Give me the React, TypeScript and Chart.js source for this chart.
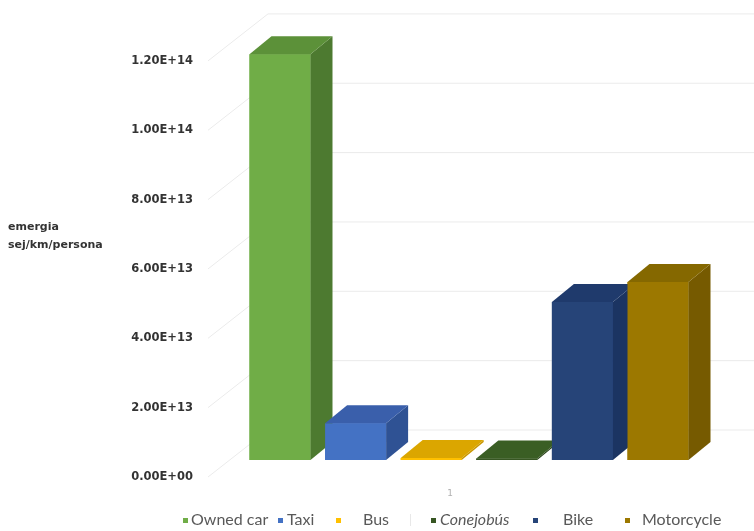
import React, { useEffect, useRef } from "react";
import { Chart, registerables } from "chart.js";

Chart.register(...registerables);

// Transport modes (one series each) and their emergy per km per person
const modes = ["Owned car", "Taxi", "Bus", "Conejobús", "Bike", "Motorcycle"];
const emergy = [1.17e14, 1.06e13, 6e11, 4e11, 4.56e13, 5.13e13];
const categoryLabels = ["1"];
const yTickStep = 2e13;
const yMax = 1.2e14;
const yTitleLines = ["emergia", "sej/km/persona"];

// Face colours for each 3-D column: front, side, top
const frontColors = ["#70ad47", "#4472c4", "#ffc000", "#375623", "#264478", "#9c7800"];
const sideColors = ["#4d7a30", "#2f5294", "#c99700", "#2b441b", "#1b3462", "#765a00"];
const topColors = ["#5c9139", "#3a5fab", "#dba600", "#3a5e24", "#1f3a6c", "#856800"];

// Perspective offsets
const COL_DX = 22; // column depth, to the right
const COL_DY = 18; // column depth, upward
const FLOOR_DX = -22; // front edge of the floor relative to the column plane
const FLOOR_DY = 17;
const WALL_DX = 38; // back wall relative to the column plane
const WALL_DY = -30;

// Legend entry placement
const legendMarkerX = [183, 278, 336, 431, 533, 625];
const legendTextX = [191, 287, 363, 440, 563, 642];
const legendY = 520;

const fmtSci = (v: number) => {
  const [m, e] = v.toExponential(2).split("e");
  return `${m}E${e[0]}${e.slice(1).padStart(2, "0")}`;
};

const poly = (ctx: CanvasRenderingContext2D, pts: number[][], color: string) => {
  ctx.beginPath();
  ctx.moveTo(pts[0][0], pts[0][1]);
  for (let i = 1; i < pts.length; i++) ctx.lineTo(pts[i][0], pts[i][1]);
  ctx.closePath();
  ctx.fillStyle = color;
  ctx.fill();
};

const wallPlugin = {
  id: "wall3d",
  beforeDatasetsDraw(chart: any) {
    const { ctx, chartArea, scales } = chart;
    const y = scales.y;
    ctx.save();
    ctx.strokeStyle = "#ebebeb";
    ctx.lineWidth = 1;
    for (let v = 0; v <= yMax + 1; v += yTickStep) {
      const p = y.getPixelForValue(v);
      ctx.beginPath();
      ctx.moveTo(chartArea.left + FLOOR_DX, p + FLOOR_DY);
      ctx.lineTo(chartArea.left + WALL_DX, p + WALL_DY);
      ctx.lineTo(chart.width, p + WALL_DY);
      ctx.stroke();
    }
    ctx.restore();
  },
};

const columnsPlugin = {
  id: "columns3d",
  afterDatasetsDraw(chart: any) {
    const { ctx } = chart;
    ctx.save();
    chart.data.datasets.forEach((_: any, i: number) => {
      const el = chart.getDatasetMeta(i).data[0];
      if (!el) return;
      const { x, y, base, width } = el.getProps(["x", "y", "base", "width"], true);
      const l = x - width / 2;
      const r = x + width / 2;
      poly(ctx, [[l, y], [r, y], [r, base], [l, base]], frontColors[i]);
      poly(ctx, [[r, y], [r + COL_DX, y - COL_DY], [r + COL_DX, base - COL_DY], [r, base]], sideColors[i]);
      poly(ctx, [[l, y], [l + COL_DX, y - COL_DY], [r + COL_DX, y - COL_DY], [r, y]], topColors[i]);
    });
    ctx.restore();
  },
};

const annotationsPlugin = {
  id: "annotations",
  afterDraw(chart: any) {
    const { ctx } = chart;
    ctx.save();
    // axis title, horizontal, two lines
    ctx.fillStyle = "#333333";
    ctx.font = "bold 11px 'DejaVu Sans'";
    ctx.textAlign = "left";
    ctx.textBaseline = "middle";
    yTitleLines.forEach((t, k) => ctx.fillText(t, 8, 227 + k * 18));

    // legend
    ctx.textBaseline = "middle";
    modes.forEach((name, i) => {
      ctx.fillStyle = frontColors[i];
      ctx.fillRect(legendMarkerX[i], legendY - 2, 5, 5);
      ctx.fillStyle = "#595959";
      ctx.font = `${name === "Conejobús" ? "italic " : ""}16px Lato`;
      ctx.fillText(name, legendTextX[i], legendY);
    });
    ctx.strokeStyle = "#e8e8e8";
    ctx.beginPath();
    ctx.moveTo(410.5, legendY - 6);
    ctx.lineTo(410.5, legendY + 6);
    ctx.stroke();
    ctx.restore();
  },
};

export default function App() {
  const ref = useRef<HTMLCanvasElement>(null);

  useEffect(() => {
    if (!ref.current) return;
    const chart = new Chart(ref.current, {
      type: "bar",
      data: {
        labels: categoryLabels,
        datasets: modes.map((m, i) => ({
          label: m,
          data: [emergy[i]],
          backgroundColor: frontColors[i],
          borderWidth: 0,
        })),
      },
      options: {
        animation: false,
        responsive: false,
        devicePixelRatio: 1,
        categoryPercentage: 0.949,
        barPercentage: 0.807,
        layout: { padding: { top: 41, right: 46, left: 0, bottom: 0 } },
        plugins: { legend: { display: false }, tooltip: { enabled: false } },
        scales: {
          x: {
            grid: { display: false, drawTicks: false },
            border: { display: false },
            ticks: {
              color: "#b0b0b0",
              font: { size: 9, family: "'DejaVu Sans'" },
              padding: 28,
              labelOffset: -19,
            },
            afterFit: (s: any) => {
              s.height = 71;
            },
          },
          y: {
            min: 0,
            max: yMax,
            grid: { display: false, drawTicks: false },
            border: { display: false },
            ticks: {
              stepSize: yTickStep,
              color: "#333333",
              font: { size: 11.5, weight: "bold", family: "'DejaVu Sans'" },
              padding: 37,
              labelOffset: FLOOR_DY,
              callback: (v: any) => fmtSci(Number(v)),
            },
            afterFit: (s: any) => {
              s.width = 230;
            },
          },
        },
      } as any,
      plugins: [wallPlugin, columnsPlugin, annotationsPlugin],
    });
    return () => chart.destroy();
  }, []);

  return (
    <div style={{ position: "fixed", left: 0, top: 0, width: 754, height: 531, background: "#fff" }}>
      <canvas ref={ref} width={754} height={531} style={{ display: "block" }} />
    </div>
  );
}
